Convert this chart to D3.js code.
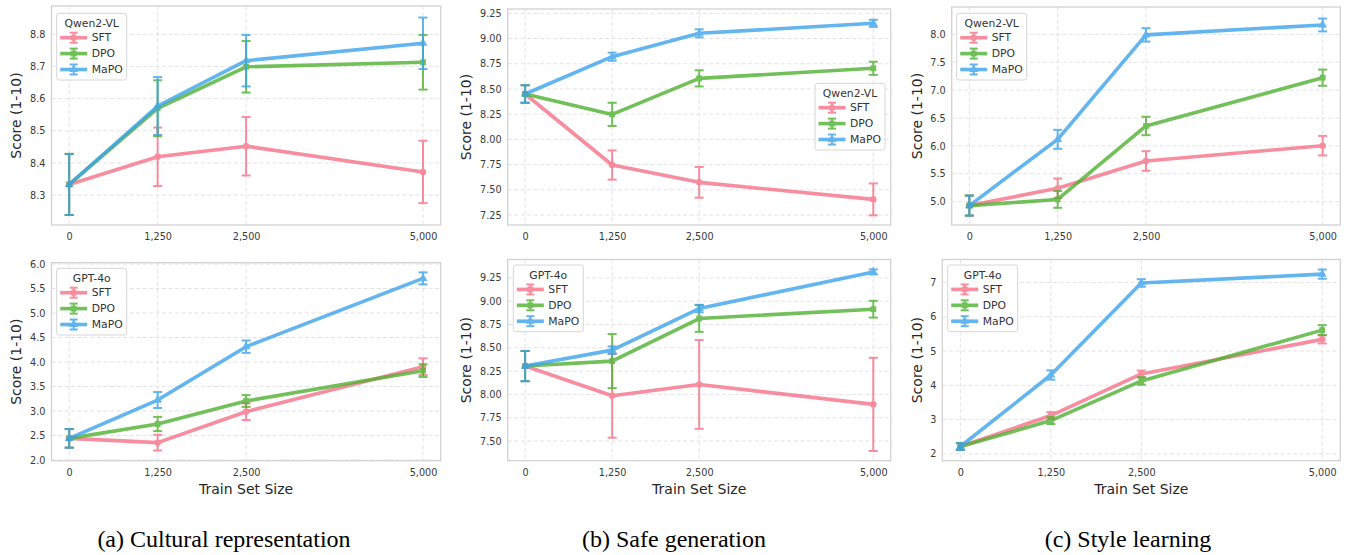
<!DOCTYPE html>
<html><head><meta charset="utf-8">
<script src="https://cdn.jsdelivr.net/npm/d3@7"></script>
<style>body{margin:0;background:#fff}svg{display:block}</style>
</head><body><svg id="c" width="1349" height="555"></svg>
<script>
// ---------------- data ----------------
const categories = [0, 1250, 2500, 5000];
const xTickLabels = ["0", "1,250", "2,500", "5,000"];
const seriesNames = ["SFT", "DPO", "MaPO"];
const captions = ["(a) Cultural representation", "(b) Safe generation", "(c) Style learning"];

// Cultural representation – Qwen2-VL
const cultQwenSFT  = [8.333, 8.419, 8.452, 8.372];
const cultQwenDPO  = [8.333, 8.570, 8.699, 8.713];
const cultQwenMaPO = [8.333, 8.577, 8.718, 8.772];
const cultQwenSFTErr  = [0.095, 0.091, 0.091, 0.097];
const cultQwenDPOErr  = [0.095, 0.087, 0.080, 0.085];
const cultQwenMaPOErr = [0.095, 0.090, 0.080, 0.080];
const cultQwenTicks = [8.3, 8.4, 8.5, 8.6, 8.7, 8.8];

// Safe generation – Qwen2-VL
const safeQwenSFT  = [8.450, 7.746, 7.574, 7.405];
const safeQwenDPO  = [8.450, 8.248, 8.605, 8.705];
const safeQwenMaPO = [8.450, 8.820, 9.052, 9.151];
const safeQwenSFTErr  = [0.087, 0.145, 0.152, 0.158];
const safeQwenDPOErr  = [0.087, 0.115, 0.080, 0.065];
const safeQwenMaPOErr = [0.087, 0.040, 0.040, 0.035];
const safeQwenTicks = [7.25, 7.5, 7.75, 8.0, 8.25, 8.5, 8.75, 9.0, 9.25];

// Style learning – Qwen2-VL
const styleQwenSFT  = [4.93, 5.24, 5.73, 6.004];
const styleQwenDPO  = [4.93, 5.04, 6.357, 7.223];
const styleQwenMaPO = [4.93, 6.118, 7.99, 8.168];
const styleQwenSFTErr  = [0.18, 0.175, 0.175, 0.175];
const styleQwenDPOErr  = [0.18, 0.15, 0.165, 0.145];
const styleQwenMaPOErr = [0.18, 0.17, 0.12, 0.115];
const styleQwenTicks = [5.0, 5.5, 6.0, 6.5, 7.0, 7.5, 8.0];

// Cultural representation – GPT-4o
const cultGptSFT  = [2.442, 2.354, 2.986, 3.905];
const cultGptDPO  = [2.442, 2.735, 3.204, 3.823];
const cultGptMaPO = [2.442, 3.224, 4.313, 5.707];
const cultGptSFTErr  = [0.19, 0.16, 0.17, 0.17];
const cultGptDPOErr  = [0.19, 0.145, 0.12, 0.13];
const cultGptMaPOErr = [0.19, 0.163, 0.126, 0.122];
const cultGptTicks = [2.0, 2.5, 3.0, 3.5, 4.0, 4.5, 5.0, 5.5, 6.0];

// Safe generation – GPT-4o
const safeGptSFT  = [8.304, 7.986, 8.107, 7.893];
const safeGptDPO  = [8.304, 8.357, 8.814, 8.914];
const safeGptMaPO = [8.304, 8.475, 8.921, 9.314];
const safeGptSFTErr  = [0.162, 0.45, 0.476, 0.5];
const safeGptDPOErr  = [0.162, 0.29, 0.143, 0.09];
const safeGptMaPOErr = [0.162, 0.04, 0.04, 0.027];
const safeGptTicks = [7.5, 7.75, 8.0, 8.25, 8.5, 8.75, 9.0, 9.25];

// Style learning – GPT-4o
const styleGptSFT  = [2.214, 3.117, 4.33, 5.34];
const styleGptDPO  = [2.214, 2.97, 4.126, 5.61];
const styleGptMaPO = [2.214, 4.30, 6.985, 7.243];
const styleGptSFTErr  = [0.1, 0.1, 0.1, 0.117];
const styleGptDPOErr  = [0.1, 0.1, 0.11, 0.145];
const styleGptMaPOErr = [0.1, 0.135, 0.11, 0.135];
const styleGptTicks = [2, 3, 4, 5, 6, 7];

// ---------------- layout / style ----------------
const colors = ["#f77189", "#50b131", "#3ba3ec"];
const markerTypes = [d3.symbolCircle, d3.symbolSquare, d3.symbolTriangle];

const panels = [
  {model:"Qwen2-VL", means:[cultQwenSFT,cultQwenDPO,cultQwenMaPO], errs:[cultQwenSFTErr,cultQwenDPOErr,cultQwenMaPOErr],
   ticks:cultQwenTicks, fmt:".1f", L:51.5, R:440.7, T:6, B:225, yDom:[8.207,8.888], leg:[56.7,13.3], ylx:16, xlabel:false},
  {model:"Qwen2-VL", means:[safeQwenSFT,safeQwenDPO,safeQwenMaPO], errs:[safeQwenSFTErr,safeQwenDPOErr,safeQwenMaPOErr],
   ticks:safeQwenTicks, fmt:".2f", L:507.7, R:890.7, T:9, B:225, yDom:[7.151,9.293], leg:[815,83.3], ylx:466, xlabel:false},
  {model:"Qwen2-VL", means:[styleQwenSFT,styleQwenDPO,styleQwenMaPO], errs:[styleQwenSFTErr,styleQwenDPOErr,styleQwenMaPOErr],
   ticks:styleQwenTicks, fmt:".1f", L:951.7, R:1340.3, T:7, B:225, yDom:[4.582,8.49], leg:[956.7,13.3], ylx:916.7, xlabel:false},
  {model:"GPT-4o", means:[cultGptSFT,cultGptDPO,cultGptMaPO], errs:[cultGptSFTErr,cultGptDPOErr,cultGptMaPOErr],
   ticks:cultGptTicks, fmt:".1f", L:51.5, R:440.7, T:262.7, B:460.7, yDom:[1.986,6.027], leg:[56.7,268.3], ylx:16, xlabel:true},
  {model:"GPT-4o", means:[safeGptSFT,safeGptDPO,safeGptMaPO], errs:[safeGptSFTErr,safeGptDPOErr,safeGptMaPOErr],
   ticks:safeGptTicks, fmt:".2f", L:507.7, R:890.7, T:259.5, B:460.7, yDom:[7.289,9.447], leg:[513.3,265], ylx:466, xlabel:true},
  {model:"GPT-4o", means:[styleGptSFT,styleGptDPO,styleGptMaPO], errs:[styleGptSFTErr,styleGptDPOErr,styleGptMaPOErr],
   ticks:styleGptTicks, fmt:"d", L:942.3, R:1340.3, T:259.5, B:460.7, yDom:[1.80,7.67], leg:[947.7,265], ylx:916.7, xlabel:true}
];

const svg = d3.select("#c");
const FONT = "'DejaVu Sans', sans-serif";

panels.forEach((p, pi) => {
  const x = d3.scaleLinear().domain([-250, 5250]).range([p.L, p.R]);
  const y = d3.scaleLinear().domain(p.yDom).range([p.B, p.T]);
  const g = svg.append("g");

  // grid
  const grid = g.append("g");
  grid.selectAll("line.gy").data(p.ticks).join("line")
    .attr("x1", p.L).attr("x2", p.R).attr("y1", d => y(d)).attr("y2", d => y(d))
    .attr("stroke", "#e3e3e3").attr("stroke-width", 1).attr("stroke-dasharray", "4,2.5");
  grid.selectAll("line.gx").data(categories).join("line")
    .attr("y1", p.T).attr("y2", p.B).attr("x1", d => x(d)).attr("x2", d => x(d))
    .attr("stroke", "#e3e3e3").attr("stroke-width", 1).attr("stroke-dasharray", "4,2.5");

  // axes
  const xAxis = d3.axisBottom(x).tickValues(categories).tickFormat((d, i) => xTickLabels[i]).tickSize(0).tickPadding(8);
  const xa = g.append("g").attr("transform", `translate(0,${p.B})`).call(xAxis);
  const yAxis = d3.axisLeft(y).tickValues(p.ticks).tickFormat(d3.format(p.fmt)).tickSize(0).tickPadding(6);
  const ya = g.append("g").attr("transform", `translate(${p.L},0)`).call(yAxis);
  [xa, ya].forEach(a => {
    a.select(".domain").remove();
    a.selectAll("text").attr("font-family", FONT).attr("font-size", "9.7px").attr("fill", "#3a3a3a");
  });

  // frame
  g.append("rect").attr("x", p.L).attr("y", p.T).attr("width", p.R - p.L).attr("height", p.B - p.T)
    .attr("fill", "none").attr("stroke", "#d2d2d2").attr("stroke-width", 1.3);

  // series
  const clip = "clip" + pi;
  svg.append("clipPath").attr("id", clip).append("rect")
    .attr("x", p.L).attr("y", p.T).attr("width", p.R - p.L).attr("height", p.B - p.T);
  const sg = g.append("g").attr("clip-path", `url(#${clip})`);
  p.means.forEach((vals, si) => {
    const col = colors[si];
    const pts = categories.map((c, i) => ({x: c, v: vals[i], e: p.errs[si][i]}));
    const s = sg.append("g").attr("opacity", 0.8);
    // error bars
    const eb = s.append("g").attr("stroke", col).attr("stroke-width", 2);
    eb.selectAll("line.v").data(pts).join("line")
      .attr("x1", d => x(d.x)).attr("x2", d => x(d.x)).attr("y1", d => y(d.v - d.e)).attr("y2", d => y(d.v + d.e));
    eb.selectAll("line.ct").data(pts).join("line")
      .attr("x1", d => x(d.x) - 4.5).attr("x2", d => x(d.x) + 4.5).attr("y1", d => y(d.v + d.e)).attr("y2", d => y(d.v + d.e));
    eb.selectAll("line.cb").data(pts).join("line")
      .attr("x1", d => x(d.x) - 4.5).attr("x2", d => x(d.x) + 4.5).attr("y1", d => y(d.v - d.e)).attr("y2", d => y(d.v - d.e));
    // line
    s.append("path").datum(pts)
      .attr("d", d3.line().x(d => x(d.x)).y(d => y(d.v)))
      .attr("fill", "none").attr("stroke", col).attr("stroke-width", 3.6).attr("stroke-linejoin", "round");
    s.selectAll("path.m").data(pts).join("path")
      .attr("transform", d => `translate(${x(d.x)},${y(d.v)})`)
      .attr("d", d3.symbol().type(markerTypes[si]).size(34))
      .attr("fill", col);
  });

  // y label
  g.append("text").attr("transform", `translate(${p.ylx},${(p.T + p.B) / 2}) rotate(-90)`)
    .attr("text-anchor", "middle").attr("dominant-baseline", "central")
    .attr("font-family", FONT).attr("font-size", "14px").attr("fill", "#262626").text("Score (1-10)");
  if (p.xlabel) {
    g.append("text").attr("x", (p.L + p.R) / 2).attr("y", 488.5)
      .attr("text-anchor", "middle").attr("dominant-baseline", "central")
      .attr("font-family", FONT).attr("font-size", "14px").attr("fill", "#262626").text("Train Set Size");
  }

  // legend
  const [lx, ly] = p.leg;
  const lg = g.append("g").attr("transform", `translate(${lx},${ly})`);
  lg.append("rect").attr("width", 70).attr("height", 66.7).attr("rx", 2.5)
    .attr("fill", "#fff").attr("fill-opacity", 0.85).attr("stroke", "#d6d6d6").attr("stroke-width", 1);
  lg.append("text").attr("x", 35).attr("y", 10).attr("text-anchor", "middle").attr("dominant-baseline", "central")
    .attr("font-family", FONT).attr("font-size", "10.8px").attr("fill", "#333").text(p.model);
  seriesNames.forEach((nm, si) => {
    const ry = 24.4 + si * 15.9;
    const col = colors[si];
    const h = lg.append("g").attr("opacity", 0.8);
    h.append("line").attr("x1", 3.5).attr("x2", 30.5).attr("y1", ry).attr("y2", ry)
      .attr("stroke", col).attr("stroke-width", 3.6);
    h.append("line").attr("x1", 17).attr("x2", 17).attr("y1", ry - 5).attr("y2", ry + 5).attr("stroke", col).attr("stroke-width", 2);
    h.append("line").attr("x1", 13).attr("x2", 21).attr("y1", ry - 5).attr("y2", ry - 5).attr("stroke", col).attr("stroke-width", 2);
    h.append("line").attr("x1", 13).attr("x2", 21).attr("y1", ry + 5).attr("y2", ry + 5).attr("stroke", col).attr("stroke-width", 2);
    h.append("path").attr("transform", `translate(17,${ry})`).attr("d", d3.symbol().type(markerTypes[si]).size(34)).attr("fill", col);
    lg.append("text").attr("x", 35).attr("y", ry).attr("dominant-baseline", "central")
      .attr("font-family", FONT).attr("font-size", "10.8px").attr("fill", "#333").text(nm);
  });
});

// captions
const capX = [224, 674, 1128];
svg.selectAll("text.cap").data(captions).join("text")
  .attr("x", (d, i) => capX[i]).attr("y", 547)
  .attr("text-anchor", "middle")
  .attr("font-family", "'Liberation Serif', 'Times New Roman', serif").attr("font-size", "24px").attr("fill", "#000")
  .text(d => d);
</script></body></html>
